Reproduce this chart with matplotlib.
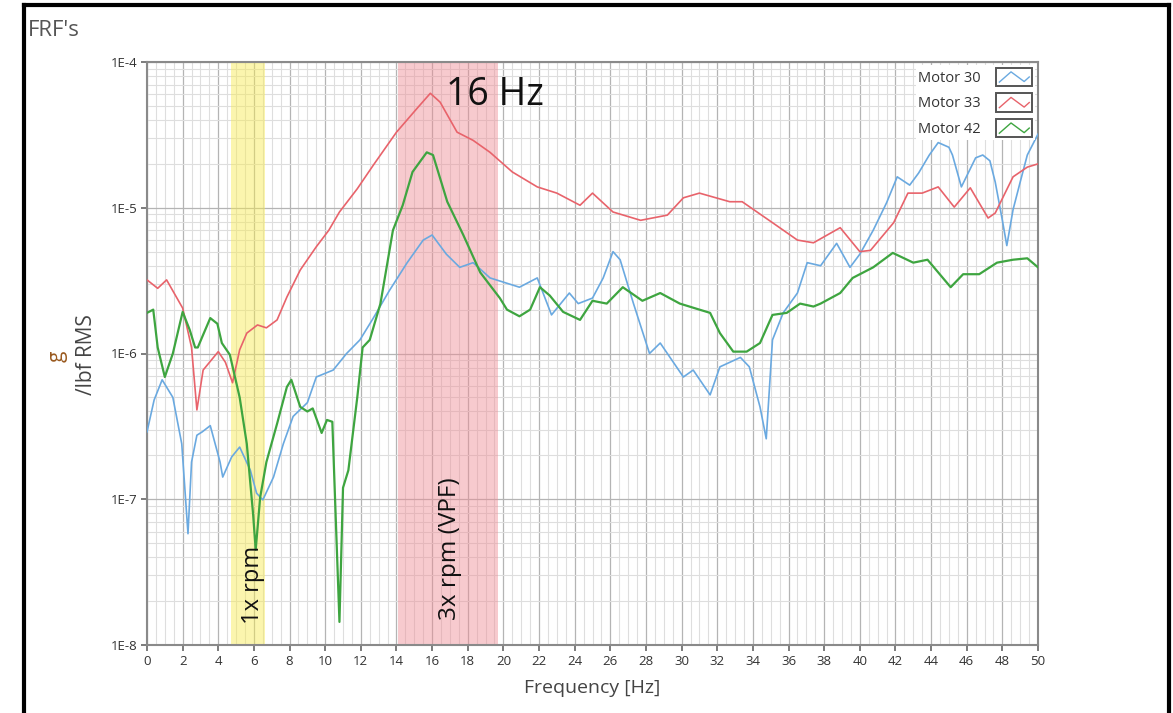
import matplotlib
matplotlib.use("Agg")
import matplotlib.pyplot as plt
from matplotlib.legend_handler import HandlerBase
from matplotlib.lines import Line2D
from matplotlib.patches import Rectangle
from matplotlib.ticker import FixedLocator, MultipleLocator, LogLocator, NullFormatter

plt.rcParams['font.family'] = ['Open Sans', 'DejaVu Sans']

# ---- data ----
freq_30 = [0.0, 0.4, 0.85, 1.45, 1.95, 2.3, 2.5, 2.8, 3.1, 3.55, 4.1, 4.25, 4.75, 5.2,
           5.8, 6.15, 6.5, 7.1, 7.65, 8.2, 9.0, 9.5, 10.45, 11.2, 11.95, 12.7, 13.6,
           14.6, 15.5, 16.0, 16.8, 17.55, 18.3, 19.25, 20.9, 21.9, 22.7, 23.7, 24.2,
           25.0, 25.6, 26.15, 26.55, 27.3, 28.2, 28.8, 30.1, 30.65, 31.6, 32.15, 33.3,
           33.8, 34.4, 34.75, 35.1, 35.7, 36.5, 37.05, 37.8, 38.7, 39.45, 40.0, 40.75,
           41.5, 42.1, 42.8, 43.3, 43.9, 44.4, 45.0, 45.2, 45.7, 46.5, 46.9, 47.3,
           47.6, 48.0, 48.25, 48.6, 49.0, 49.4, 50.0]
motor_30 = [2.9e-7, 4.8e-7, 6.6e-7, 5.0e-7, 2.4e-7, 5.8e-8, 1.8e-7, 2.75e-7, 2.9e-7,
            3.2e-7, 1.8e-7, 1.42e-7, 1.95e-7, 2.28e-7, 1.58e-7, 1.1e-7, 9.9e-8, 1.42e-7,
            2.4e-7, 3.7e-7, 4.6e-7, 6.9e-7, 7.7e-7, 1.0e-6, 1.24e-6, 1.75e-6, 2.7e-6,
            4.2e-6, 6.0e-6, 6.5e-6, 4.8e-6, 3.9e-6, 4.2e-6, 3.3e-6, 2.85e-6, 3.3e-6,
            1.84e-6, 2.6e-6, 2.2e-6, 2.4e-6, 3.3e-6, 5.0e-6, 4.4e-6, 2.2e-6, 1.0e-6,
            1.18e-6, 6.9e-7, 7.7e-7, 5.2e-7, 8.1e-7, 9.4e-7, 8.1e-7, 4.3e-7, 2.6e-7,
            1.24e-6, 1.9e-6, 2.6e-6, 4.2e-6, 4.0e-6, 5.7e-6, 3.9e-6, 4.8e-6, 7.0e-6,
            1.08e-5, 1.63e-5, 1.43e-5, 1.73e-5, 2.3e-5, 2.8e-5, 2.6e-5, 2.3e-5, 1.39e-5,
            2.2e-5, 2.3e-5, 2.1e-5, 1.5e-5, 8.2e-6, 5.5e-6, 9.7e-6, 1.5e-5, 2.3e-5, 3.2e-5]

freq_33 = [0.0, 0.6, 1.1, 2.0, 2.5, 2.8, 3.15, 4.0, 4.4, 4.8, 5.2, 5.6, 6.2, 6.7, 7.3,
           7.85, 8.6, 9.5, 10.2, 10.8, 11.8, 12.7, 14.0, 15.15, 15.9, 16.45, 17.4,
           18.3, 19.25, 20.5, 21.9, 23.0, 24.3, 25.0, 26.15, 27.7, 29.2, 30.1, 31.0,
           32.7, 33.4, 35.1, 36.5, 37.4, 38.9, 40.0, 40.6, 41.9, 42.7, 43.5, 44.4,
           45.3, 46.2, 47.2, 47.6, 48.6, 49.4, 50.0]
motor_33 = [3.2e-6, 2.8e-6, 3.2e-6, 2.05e-6, 1.1e-6, 4.1e-7, 7.7e-7, 1.03e-6, 8.7e-7,
            6.3e-7, 1.06e-6, 1.38e-6, 1.57e-6, 1.5e-6, 1.7e-6, 2.44e-6, 3.74e-6,
            5.4e-6, 7.0e-6, 9.35e-6, 1.35e-5, 1.96e-5, 3.3e-5, 4.8e-5, 6.1e-5, 5.3e-5,
            3.3e-5, 2.9e-5, 2.4e-5, 1.76e-5, 1.39e-5, 1.26e-5, 1.04e-5, 1.26e-5,
            9.35e-6, 8.2e-6, 8.9e-6, 1.17e-5, 1.26e-5, 1.1e-5, 1.1e-5, 7.9e-6, 6.0e-6,
            5.75e-6, 7.3e-6, 5.0e-6, 5.1e-6, 7.9e-6, 1.26e-5, 1.26e-5, 1.39e-5,
            1.01e-5, 1.37e-5, 8.5e-6, 9.2e-6, 1.63e-5, 1.9e-5, 2.0e-5]

freq_42 = [0.0, 0.35, 0.6, 1.0, 1.45, 2.0, 2.4, 2.7, 2.85, 3.1, 3.55, 3.95, 4.2, 4.65,
           5.2, 5.6, 5.95, 6.1, 6.35, 6.7, 7.3, 7.85, 8.1, 8.6, 9.0, 9.3, 9.8, 10.1,
           10.4, 10.55, 10.8, 11.0, 11.3, 11.8, 12.1, 12.5, 13.1, 13.8, 14.35, 14.9,
           15.7, 16.05, 16.85, 17.75, 18.7, 19.8, 20.2, 20.9, 21.5, 22.05, 22.6, 23.35,
           24.3, 25.0, 25.8, 26.7, 27.8, 28.8, 29.9, 31.0, 31.6, 32.15, 32.9, 33.65,
           34.4, 35.1, 35.9, 36.65, 37.4, 37.8, 38.9, 39.6, 40.75, 41.85, 43.0, 43.8,
           45.1, 45.8, 46.7, 47.7, 48.6, 49.4, 50.0]
motor_42 = [1.9e-6, 2.0e-6, 1.1e-6, 6.9e-7, 1.0e-6, 1.93e-6, 1.45e-6, 1.1e-6, 1.1e-6,
            1.3e-6, 1.75e-6, 1.6e-6, 1.18e-6, 9.8e-7, 5.0e-7, 2.4e-7, 8.0e-8, 4.5e-8,
            1.03e-7, 1.8e-7, 3.3e-7, 5.9e-7, 6.6e-7, 4.3e-7, 4.0e-7, 4.2e-7, 2.85e-7,
            3.5e-7, 3.4e-7, 1.03e-7, 1.44e-8, 1.2e-7, 1.58e-7, 5.0e-7, 1.1e-6, 1.24e-6,
            2.2e-6, 7.0e-6, 1.04e-5, 1.76e-5, 2.4e-5, 2.3e-5, 1.1e-5, 6.5e-6, 3.6e-6,
            2.4e-6, 2.0e-6, 1.8e-6, 2.0e-6, 2.85e-6, 2.5e-6, 1.93e-6, 1.7e-6, 2.3e-6,
            2.2e-6, 2.85e-6, 2.3e-6, 2.6e-6, 2.2e-6, 2.0e-6, 1.9e-6, 1.38e-6, 1.03e-6,
            1.03e-6, 1.18e-6, 1.84e-6, 1.9e-6, 2.2e-6, 2.1e-6, 2.2e-6, 2.6e-6, 3.3e-6,
            3.9e-6, 4.9e-6, 4.2e-6, 4.4e-6, 2.85e-6, 3.5e-6, 3.5e-6, 4.2e-6, 4.4e-6,
            4.5e-6, 3.9e-6]

band_1x = (4.7, 6.6)
band_3x = (14.1, 19.7)
y_ticks = [1e-8, 1e-7, 1e-6, 1e-5, 1e-4]
y_tick_labels = ["1E-8", "1E-7", "1E-6", "1E-5", "1E-4"]


class ZigzagHandler(HandlerBase):
    """legend icon: a framed box with a small zigzag in the series colour"""
    def create_artists(self, legend, orig_handle, xdescent, ydescent, width, height,
                       fontsize, trans):
        x0, y0 = -xdescent, -ydescent
        box = Rectangle((x0, y0), width, height, facecolor="white",
                        edgecolor="#555555", lw=1.4, transform=trans)
        xs = [x0 + f * width for f in (0.1, 0.42, 0.78, 0.92)]
        ys = [y0 + f * height for f in (0.22, 0.78, 0.25, 0.5)]
        zz = Line2D(xs, ys, color=orig_handle.get_color(), lw=1.0, transform=trans)
        return [box, zz]


fig = plt.figure(figsize=(11.73, 7.13), dpi=100)
ax = fig.add_axes([147 / 1173, 1 - 645 / 713, (1038 - 147) / 1173, (645 - 62) / 713])

ax.axvspan(*band_1x, color="#f7ea4d", alpha=0.45, lw=0, zorder=1)
ax.axvspan(*band_3x, color="#ef8a93", alpha=0.45, lw=0, zorder=1)

l30, = ax.plot(freq_30, motor_30, color="#6aa9e0", lw=1.2, zorder=3)
l33, = ax.plot(freq_33, motor_33, color="#e8636b", lw=1.2, zorder=3)
l42, = ax.plot(freq_42, motor_42, color="#3ea540", lw=1.6, zorder=3)

ax.set_yscale("log")
ax.set_xlim(0, 50)
ax.set_ylim(1e-8, 1e-4)

ax.xaxis.set_major_locator(MultipleLocator(2))
ax.xaxis.set_minor_locator(MultipleLocator(0.5))
ax.yaxis.set_major_locator(FixedLocator(y_ticks))
ax.set_yticklabels(y_tick_labels)
ax.yaxis.set_minor_locator(LogLocator(base=10, subs=range(2, 10)))
ax.yaxis.set_minor_formatter(NullFormatter())

ax.grid(which="major", color="#b4b4b4", lw=0.9, zorder=0)
ax.grid(which="minor", color="#dedede", lw=0.8, zorder=0)
ax.set_axisbelow(True)

ax.tick_params(which="major", direction="out", length=4, width=1.2, color="#666666",
               labelsize=9.5, labelcolor="#333333", pad=3)
ax.tick_params(which="minor", length=0)
for s in ax.spines.values():
    s.set_color("#8a8a8a")
    s.set_linewidth(1.5)

ax.set_xlabel("Frequency [Hz]", fontsize=14, color="#444444", labelpad=8)

# two-line y label, "g" over "/lbf RMS"
fig.text(57 / 1173, 1 - 356 / 713, "g", rotation=90, fontsize=15, color="#9a5a20",
         ha="center", va="center")
fig.text(87 / 1173, 1 - 355 / 713, "/lbf RMS", rotation=90, fontsize=15,
         color="#444444", ha="center", va="center")
fig.text(28 / 1173, 1 - 31 / 713, "FRF's", fontsize=16, color="#555555",
         ha="left", va="center")

ax.text(16.8, 5.9e-5, "16 Hz", fontsize=27, color="#111111", ha="left",
        va="center", zorder=5)
ax.text(5.95, 2.6e-8, "1x rpm", rotation=90, fontsize=17, color="#111111",
        ha="center", va="center", zorder=5)
ax.text(17.0, 4.6e-8, "3x rpm (VPF)", rotation=90, fontsize=17.5, color="#111111",
        ha="center", va="center", zorder=5)

leg = ax.legend([l30, l33, l42], ["Motor 30", "Motor 33", "Motor 42"],
                handler_map={Line2D: ZigzagHandler()}, loc="upper right",
                bbox_to_anchor=(1.0, 1.0), borderaxespad=0.2, markerfirst=False,
                fontsize=10.5, handlelength=2.5, handleheight=1.55,
                handletextpad=1.0, labelspacing=0.5, borderpad=0.2,
                frameon=True, fancybox=False, framealpha=1)
leg.get_frame().set_edgecolor("none")
leg.get_frame().set_facecolor("white")
for t in leg.get_texts():
    t.set_color("#333333")
leg.set_zorder(6)

# outer black frame of the screenshot
frame_kw = dict(color="black", lw=3, transform=fig.transFigure, clip_on=False)
fig.add_artist(Line2D([24 / 1173, 24 / 1173], [0, 1 - 5 / 713], **frame_kw))
fig.add_artist(Line2D([24 / 1173, 1169 / 1173], [1 - 5 / 713, 1 - 5 / 713], **frame_kw))
fig.add_artist(Line2D([1169 / 1173, 1169 / 1173], [0, 1 - 5 / 713], **frame_kw))

fig.savefig("out.png", dpi=100)
